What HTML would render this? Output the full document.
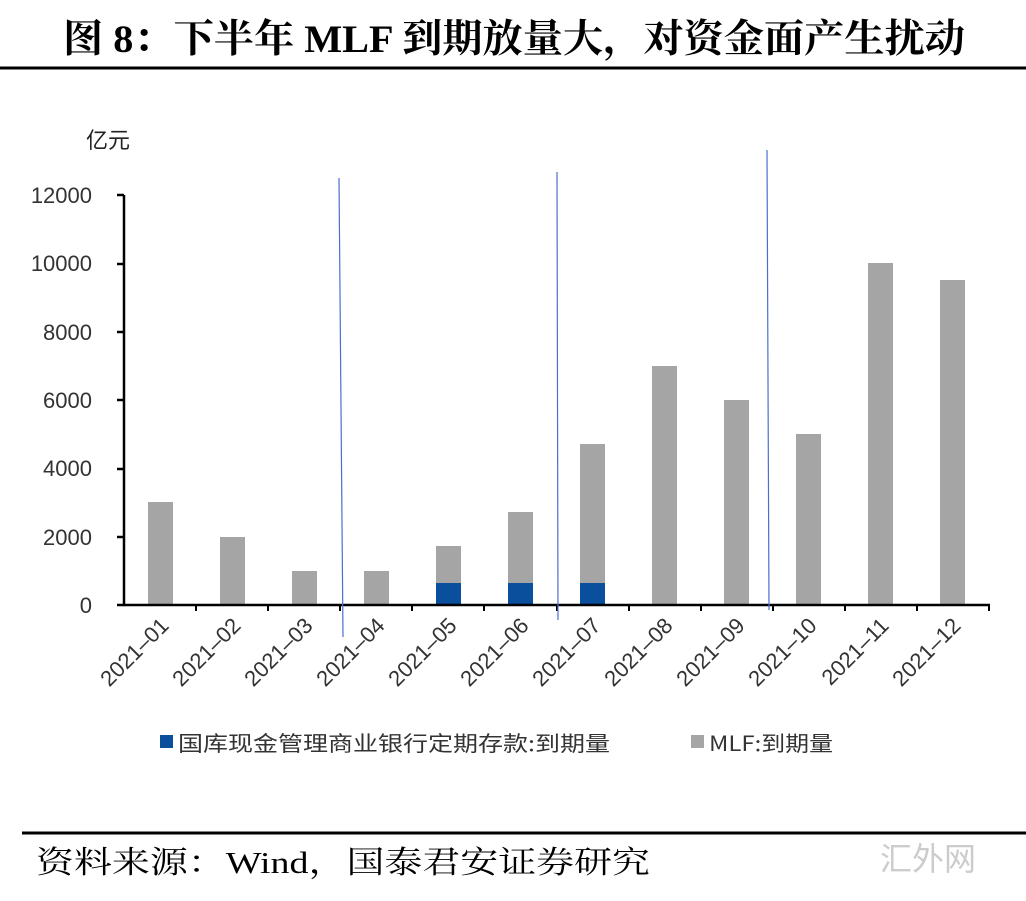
<!DOCTYPE html><html><head><meta charset="utf-8"><style>
body{margin:0;width:1026px;height:896px;background:#fff;overflow:hidden;font-family:"Liberation Sans","Noto Sans CJK SC",sans-serif}
</style></head><body>
<svg width="1026" height="896" xmlns="http://www.w3.org/2000/svg">
<text x="63" y="52" textLength="902" lengthAdjust="spacingAndGlyphs" font-family="'Liberation Serif','Noto Serif CJK SC',serif" font-weight="bold" font-size="39">图 8：下半年 MLF 到期放量大，对资金面产生扰动</text>
<line x1="0" y1="68" x2="1026" y2="68" stroke="#000" stroke-width="3"/>
<text x="86" y="148" font-size="22" font-family="'Noto Sans CJK SC',sans-serif" fill="#222">亿元</text>
<g font-size="22" fill="#333" text-anchor="end">
<text x="92" y="613">0</text><text x="92" y="545">2000</text><text x="92" y="476">4000</text>
<text x="92" y="408">6000</text><text x="92" y="340">8000</text><text x="92" y="271">10000</text><text x="92" y="203">12000</text>
</g>
<g fill="#a5a5a5">
<rect x="148" y="502" width="25" height="103"/><rect x="220" y="537" width="25" height="68"/>
<rect x="292" y="571" width="25" height="34"/><rect x="364" y="571" width="25" height="34"/>
<rect x="436" y="546" width="25" height="59"/><rect x="508" y="512" width="25" height="93"/>
<rect x="580" y="444" width="25" height="161"/><rect x="652" y="366" width="25" height="239"/>
<rect x="724" y="400" width="25" height="205"/><rect x="796" y="434" width="25" height="171"/>
<rect x="868" y="263" width="25" height="342"/><rect x="940" y="280" width="25" height="325"/>
</g>
<g fill="#0a4f9c">
<rect x="436" y="583" width="25" height="22"/><rect x="508" y="583" width="25" height="22"/><rect x="580" y="583" width="25" height="22"/>
</g>
<g stroke="#000" stroke-width="2.5">
<line x1="124" y1="195" x2="124" y2="606"/><line x1="123" y1="605" x2="990" y2="605"/>
<line x1="117" y1="195" x2="124" y2="195"/><line x1="117" y1="264" x2="124" y2="264"/><line x1="117" y1="332" x2="124" y2="332"/>
<line x1="117" y1="400" x2="124" y2="400"/><line x1="117" y1="469" x2="124" y2="469"/><line x1="117" y1="537" x2="124" y2="537"/>
<line x1="117" y1="605" x2="124" y2="605"/>
</g>
<g stroke="#000" stroke-width="2">
<line x1="196" y1="605" x2="196" y2="611"/><line x1="268" y1="605" x2="268" y2="611"/><line x1="340" y1="605" x2="340" y2="611"/>
<line x1="412" y1="605" x2="412" y2="611"/><line x1="484" y1="605" x2="484" y2="611"/><line x1="557" y1="605" x2="557" y2="611"/>
<line x1="629" y1="605" x2="629" y2="611"/><line x1="701" y1="605" x2="701" y2="611"/><line x1="773" y1="605" x2="773" y2="611"/>
<line x1="845" y1="605" x2="845" y2="611"/><line x1="917" y1="605" x2="917" y2="611"/><line x1="989" y1="605" x2="989" y2="611"/>
</g>
<g stroke="#4a6fd0" stroke-width="1.2">
<line x1="339" y1="178" x2="343" y2="637"/><line x1="557" y1="172" x2="558" y2="620"/><line x1="767" y1="150" x2="769" y2="610"/>
</g>
<g font-size="22" fill="#333" text-anchor="end">
<text transform="translate(170,627) rotate(-45)">2021–01</text><text transform="translate(242,627) rotate(-45)">2021–02</text>
<text transform="translate(314,627) rotate(-45)">2021–03</text><text transform="translate(386,627) rotate(-45)">2021–04</text>
<text transform="translate(458,627) rotate(-45)">2021–05</text><text transform="translate(530,627) rotate(-45)">2021–06</text>
<text transform="translate(602,627) rotate(-45)">2021–07</text><text transform="translate(674,627) rotate(-45)">2021–08</text>
<text transform="translate(746,627) rotate(-45)">2021–09</text><text transform="translate(818,627) rotate(-45)">2021–10</text>
<text transform="translate(890,627) rotate(-45)">2021–11</text><text transform="translate(962,627) rotate(-45)">2021–12</text>
</g>
<rect x="160" y="735" width="13" height="13" fill="#0a4f9c"/>
<text x="178" y="751" textLength="432" lengthAdjust="spacingAndGlyphs" font-size="21" fill="#333" font-family="'Noto Sans CJK SC',sans-serif">国库现金管理商业银行定期存款:到期量</text>
<rect x="691" y="735" width="13" height="13" fill="#a5a5a5"/>
<text x="709" y="751" textLength="124" lengthAdjust="spacingAndGlyphs" font-size="21" fill="#333" font-family="'Noto Sans CJK SC',sans-serif">MLF:到期量</text>
<line x1="22" y1="833" x2="1026" y2="833" stroke="#000" stroke-width="3"/>
<text x="36" y="873" textLength="614" lengthAdjust="spacingAndGlyphs" font-size="31" font-family="'Liberation Serif','Noto Serif CJK SC',serif">资料来源：Wind，国泰君安证券研究</text>
<text x="880" y="870" font-size="32" fill="#ccc" font-family="'Noto Sans CJK SC',sans-serif">汇外网</text>
</svg>
</body></html>
